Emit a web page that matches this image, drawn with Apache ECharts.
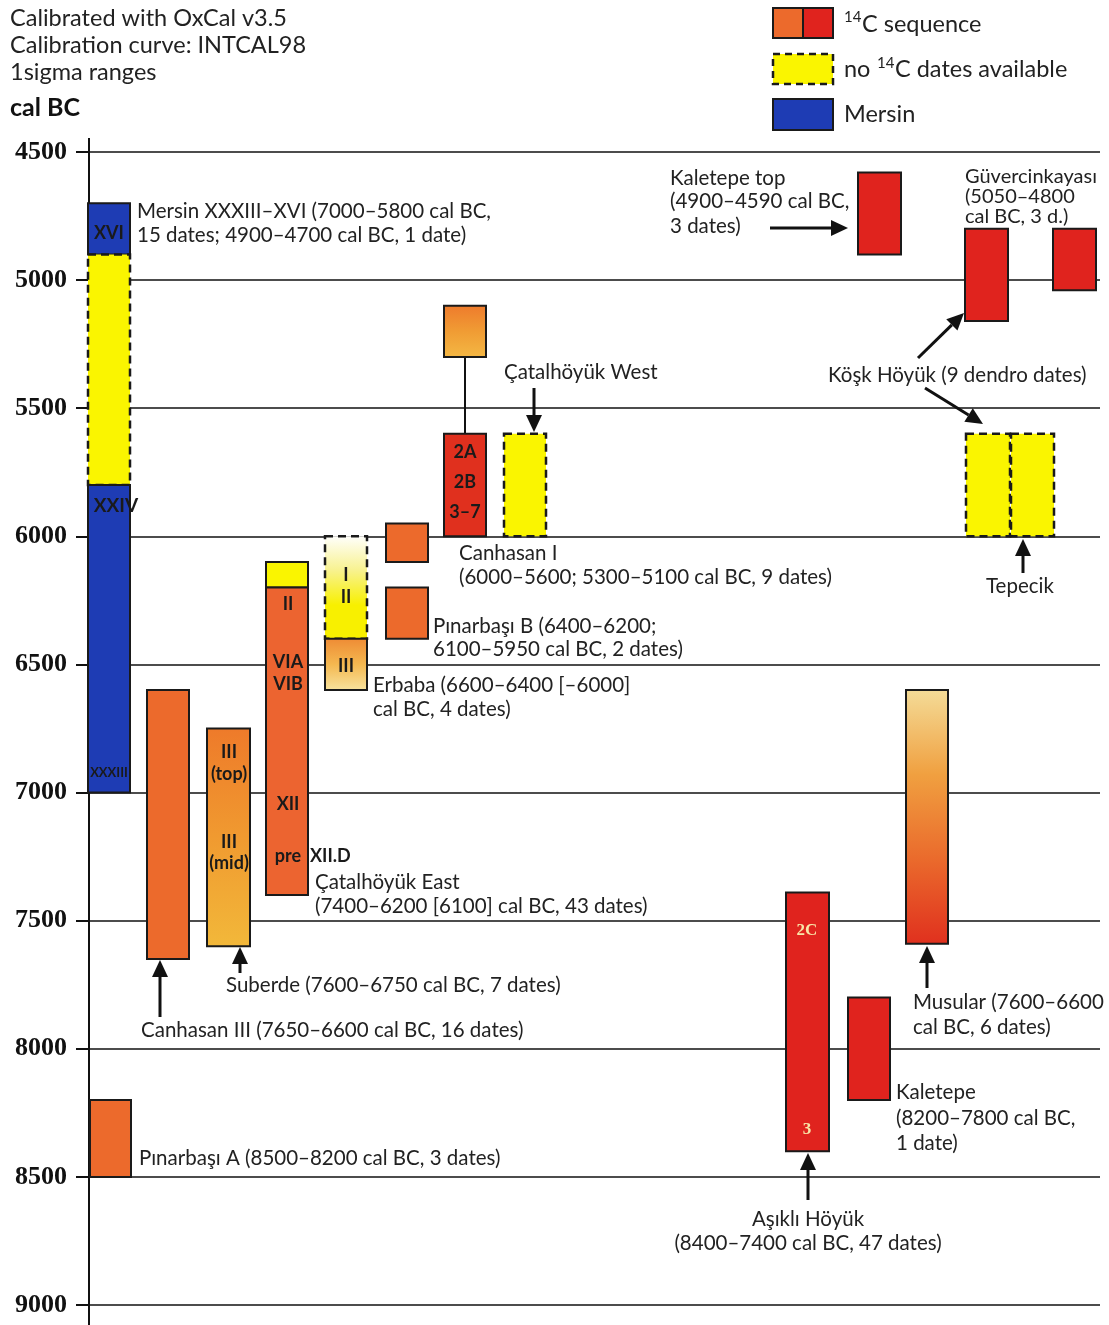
<!DOCTYPE html>
<html>
<head>
<meta charset="utf-8">
<script src="https://cdn.jsdelivr.net/npm/echarts@6/dist/echarts.min.js"></script>
<style>
  html, body { margin: 0; padding: 0; background: #fff; }
  #chart { width: 1109px; height: 1325px; }
</style>
</head>
<body>
<div id="chart"></div>
<script>
// cal BC ranges, one entry per drawn block
const blockSite = ['Mersin', 'Mersin', 'Mersin', 'Canhasan III', 'Suberde', 'Çatalhöyük East', 'Çatalhöyük East',
  'Erbaba', 'Erbaba', 'Pınarbaşı B', 'Pınarbaşı B', 'Canhasan I', 'Canhasan I', 'Çatalhöyük West', 'Kaletepe top',
  'Güvercinkayası', 'Güvercinkayası', 'Köşk Höyük', 'Köşk Höyük', 'Musular', 'Aşıklı Höyük', 'Kaletepe', 'Pınarbaşı A'];
const blockFrom = [4700, 4900, 5800, 6600, 6750, 6100, 6200, 6000, 6400, 5950, 6200, 5100, 5600, 5600, 4580,
  4800, 4800, 5600, 5600, 6600, 7390, 7800, 8200];
const blockTo = [4900, 5800, 7000, 7650, 7600, 6200, 7400, 6400, 6600, 6100, 6400, 5300, 6000, 6000, 4900,
  5160, 5040, 6000, 6000, 7590, 8400, 8200, 8500];
// c14 = 14C sequence, none = no 14C dates available, mersin = Mersin
const blockKind = ['mersin', 'none', 'mersin', 'c14', 'c14', 'none', 'c14', 'none', 'c14', 'c14', 'c14', 'c14', 'c14',
  'none', 'c14', 'c14', 'c14', 'none', 'none', 'c14', 'c14', 'c14', 'c14'];
const yTicks = [4500, 5000, 5500, 6000, 6500, 7000, 7500, 8000, 8500, 9000];

// ---- layout (x axis runs in screen pixels, 89..1100) ----
const colLeft = [88, 88, 88, 147, 207, 266, 266, 325, 325, 386, 386, 444, 444, 504, 858, 965, 1053, 966, 1011, 906, 786, 848, 90];
const colRight = [130, 130, 130, 189, 250, 308, 308, 367, 367, 428, 428, 486, 486, 546, 901, 1008, 1096, 1010, 1054, 948, 829, 890, 131];

const ORANGE = '#EC6A2C', RED = '#E0231E', YELLOW = '#FAF500', BLUE = '#1E3CB4', INK = '#1a1a1a';
const kindFill = { c14: ORANGE, none: YELLOW, mersin: BLUE };
function grad(stops) {
  return new echarts.graphic.LinearGradient(0, 0, 0, 1, stops.map((c, k) => ({ offset: k / (stops.length - 1), color: c })));
}
const fillOverride = {
  4: grad(['#EE7A2A', '#F09A30', '#F2B83A']),
  6: '#EC6430',
  7: grad(['#FFFFFF', '#F8F290', '#F8F000', '#F8F000']),
  8: grad(['#EE8A34', '#F4B850', '#F8E4A0']),
  11: grad(['#EE7A2C', '#F09C34', '#F4B844']),
  12: '#E0301E',
  14: RED, 15: RED, 16: RED, 20: RED, 21: RED,
  19: grad(['#F4DC98', '#F0A040', '#EA6A2C', '#E0301E'])
};
const solidBorder = { 5: true };

const chart = echarts.init(document.getElementById('chart'));

const FONT = 'Lato';
const TXT = '#222';
const ANN = '20.5px ' + FONT;
const HEAD = '23.5px ' + FONT;
function txt(x, y, s, opt) {
  return {
    type: 'text', x: x, y: y, z: 20,
    style: Object.assign({ text: s, fill: TXT, font: ANN, textVerticalAlign: 'middle' }, opt || {})
  };
}
function arrow(x1, y1, x2, y2) {
  const dx = x2 - x1, dy = y2 - y1, len = Math.sqrt(dx * dx + dy * dy);
  const ux = dx / len, uy = dy / len, hl = 17, hw = 8;
  const bx = x2 - ux * hl, by = y2 - uy * hl;
  return {
    type: 'group', z: 20, children: [
      { type: 'line', shape: { x1: x1, y1: y1, x2: bx, y2: by }, style: { stroke: '#111', lineWidth: 3 } },
      { type: 'polygon', shape: { points: [[x2, y2], [bx - uy * hw, by + ux * hw], [bx + uy * hw, by - ux * hw]] }, style: { fill: '#111' } }
    ]
  };
}
const boxFont = 'bold 18px ' + FONT;
function boxTxt(x, y, s, opt) {
  return txt(x, y, s, Object.assign({ font: boxFont, textAlign: 'center', fill: '#1a1a1a' }, opt || {}));
}

const graphics = [
  { type: 'line', z: 5, shape: { x1: 89, y1: 138, x2: 89, y2: 1325 }, style: { stroke: '#111', lineWidth: 2 } },
  txt(10, 18, 'Calibrated with OxCal v3.5', { font: HEAD }),
  txt(10, 45, 'Calibration curve: INTCAL98', { font: HEAD }),
  txt(10, 72, '1sigma ranges', { font: HEAD }),
  txt(10, 108, 'cal BC', { font: 'bold 25px ' + FONT, fill: '#111' }),
  // legend
  { type: 'rect', z: 20, shape: { x: 773, y: 8, width: 30, height: 30 }, style: { fill: ORANGE, stroke: INK, lineWidth: 2 } },
  { type: 'rect', z: 20, shape: { x: 803, y: 8, width: 30, height: 30 }, style: { fill: RED, stroke: INK, lineWidth: 2 } },
  { type: 'rect', z: 20, shape: { x: 773, y: 54, width: 60, height: 30 }, style: { fill: YELLOW, stroke: INK, lineWidth: 2.5, lineDash: [7, 5] } },
  { type: 'rect', z: 20, shape: { x: 773, y: 99, width: 60, height: 31 }, style: { fill: BLUE, stroke: INK, lineWidth: 2 } },
  txt(844, 17, '14', { font: '15px ' + FONT }),
  txt(862, 24, 'C sequence', { font: HEAD }),
  txt(844, 69, 'no', { font: HEAD }),
  txt(877, 63, '14', { font: '15px ' + FONT }),
  txt(895, 69, 'C dates available', { font: HEAD }),
  txt(844, 114, 'Mersin', { font: HEAD }),
  // annotations
  txt(137, 211, 'Mersin XXXIII–XVI (7000–5800 cal BC,'),
  txt(137, 235, '15 dates; 4900–4700 cal BC, 1 date)'),
  txt(670, 178, 'Kaletepe top'),
  txt(670, 201, '(4900–4590 cal BC,'),
  txt(670, 226, '3 dates)'),
  arrow(770, 228, 848, 228),
  txt(965, 177, 'Güvercinkayası', { font: '20px ' + FONT }),
  txt(965, 197, '(5050–4800', { font: '20px ' + FONT }),
  txt(965, 217, 'cal BC, 3 d.)', { font: '20px ' + FONT }),
  txt(504, 372, 'Çatalhöyük West'),
  arrow(534, 388, 534, 432),
  txt(828, 375, 'Köşk Höyük (9 dendro dates)'),
  arrow(918, 358, 964, 313),
  arrow(925, 388, 983, 424),
  txt(459, 553, 'Canhasan I'),
  txt(459, 577, '(6000–5600; 5300–5100 cal BC, 9 dates)'),
  txt(986, 586, 'Tepecik'),
  arrow(1023, 573, 1023, 539),
  txt(433, 626, 'Pınarbaşı B (6400–6200;'),
  txt(433, 649, '6100–5950 cal BC, 2 dates)'),
  txt(373, 685, 'Erbaba (6600–6400 [–6000]'),
  txt(373, 709, 'cal BC, 4 dates)'),
  txt(310, 856, 'XII.D', { font: 'bold 18px ' + FONT, fill: '#1a1a1a' }),
  txt(315, 882, 'Çatalhöyük East'),
  txt(315, 906, '(7400–6200 [6100] cal BC, 43 dates)'),
  txt(226, 985, 'Suberde (7600–6750 cal BC, 7 dates)'),
  arrow(240, 973, 240, 947),
  txt(141, 1030, 'Canhasan III (7650–6600 cal BC, 16 dates)'),
  arrow(160, 1017, 160, 960),
  txt(913, 1002, 'Musular (7600–6600'),
  txt(913, 1027, 'cal BC, 6 dates)'),
  arrow(927, 988, 927, 946),
  txt(896, 1092, 'Kaletepe'),
  txt(896, 1118, '(8200–7800 cal BC,'),
  txt(896, 1143, '1 date)'),
  txt(139, 1158, 'Pınarbaşı A (8500–8200 cal BC, 3 dates)'),
  txt(808, 1219, 'Aşıklı Höyük', { textAlign: 'center' }),
  txt(808, 1243, '(8400–7400 cal BC, 47 dates)', { textAlign: 'center' }),
  arrow(808, 1200, 808, 1153),
  // labels inside the blocks
  boxTxt(109, 233, 'XVI'),
  boxTxt(116, 506, 'XXIV', { font: 'bold 19px ' + FONT }),
  boxTxt(109, 773, 'XXXIII', { font: 'bold 13px ' + FONT }),
  boxTxt(229, 752, 'III'), boxTxt(229, 774, '(top)'),
  boxTxt(229, 842, 'III'), boxTxt(229, 863, '(mid)'),
  boxTxt(288, 604, 'II'), boxTxt(288, 662, 'VIA'), boxTxt(288, 684, 'VIB'),
  boxTxt(288, 804, 'XII'), boxTxt(288, 856, 'pre'),
  boxTxt(346, 575, 'I'), boxTxt(346, 597, 'II'), boxTxt(346, 666, 'III'),
  boxTxt(465, 452, '2A'), boxTxt(465, 482, '2B'), boxTxt(465, 512, '3–7'),
  boxTxt(807, 931, '2C', { font: 'bold 17px "Liberation Serif"', fill: '#F8E6A8' }),
  boxTxt(807, 1130, '3', { font: 'bold 17px "Liberation Serif"', fill: '#F8E6A8' })
];

const option = {
  animation: false,
  backgroundColor: '#fff',
  grid: { left: 89, right: 9, top: 152, bottom: 20 },
  xAxis: { type: 'value', min: 89, max: 1100, show: false },
  yAxis: {
    type: 'value', inverse: true,
    min: yTicks[0], max: yTicks[yTicks.length - 1], interval: yTicks[1] - yTicks[0],
    axisLine: { show: true, lineStyle: { color: '#111', width: 2 } },
    axisTick: { show: true, length: 13, lineStyle: { color: '#111', width: 2 } },
    axisLabel: {
      margin: 22, color: '#111', fontFamily: 'Liberation Serif', fontWeight: 'bold', fontSize: 26,
      formatter: function (v) { return String(v); }
    },
    splitLine: { show: true, lineStyle: { color: '#111', width: 1.6 } }
  },
  series: [
    {
      type: 'custom',
      z: 4,
      data: [[465, blockTo[11], blockFrom[12]]],
      renderItem: function (params, api) {
        const a = api.coord([api.value(0), api.value(1)]);
        const b = api.coord([api.value(0), api.value(2)]);
        return { type: 'line', shape: { x1: a[0], y1: a[1], x2: b[0], y2: b[1] }, style: { stroke: '#111', lineWidth: 2 } };
      }
    },
    {
      type: 'custom',
      name: 'blocks',
      z: 5,
      data: blockFrom.map((f, i) => [colLeft[i], colRight[i], f, blockTo[i]]),
      renderItem: function (params, api) {
        const i = params.dataIndex;
        const p0 = api.coord([api.value(0), api.value(2)]);
        const p1 = api.coord([api.value(1), api.value(3)]);
        const dashed = blockKind[i] === 'none' && !solidBorder[i];
        return {
          type: 'rect',
          shape: { x: p0[0], y: p0[1], width: p1[0] - p0[0], height: p1[1] - p0[1] },
          style: {
            fill: fillOverride[i] || kindFill[blockKind[i]],
            stroke: INK,
            lineWidth: dashed ? 2.5 : 2,
            lineDash: dashed ? [8, 5] : null
          }
        };
      }
    }
  ],
  graphic: graphics
};
chart.setOption(option);
</script>
</body>
</html>
